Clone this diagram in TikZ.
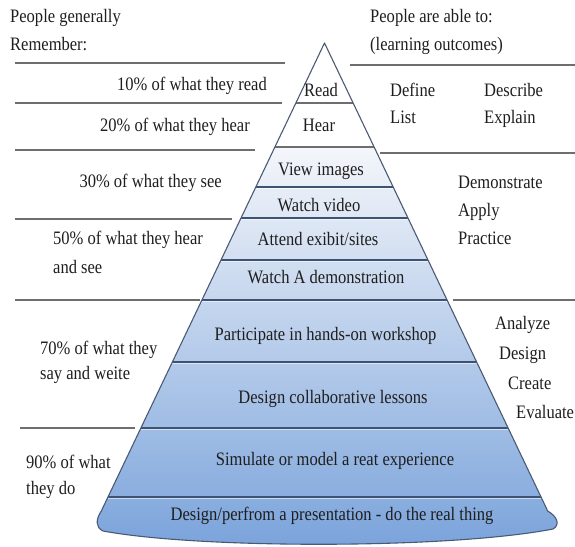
\documentclass[tikz,border=0pt]{standalone}
\usepackage{fontspec}
\setmainfont{Liberation Serif}[FakeStretch=0.87]
\usetikzlibrary{calc}
\definecolor{txt}{HTML}{1E1E1E}
\definecolor{sideline}{HTML}{6E6E6E}
\definecolor{fillTop}{HTML}{F4F6FA}
\definecolor{fillMid}{HTML}{C3D3EA}
\definecolor{fillBot}{HTML}{7AA3DB}
\definecolor{divBlue}{HTML}{3E5273}
\definecolor{outlineC}{HTML}{4A5A74}
\tikzset{
  lbl/.style={font=\fontsize{19}{22}\selectfont, text=txt, inner sep=0pt},
  sidel/.style={draw=sideline, line width=1.4pt},
  topdiv/.style={draw=sideline, line width=1.1pt},
  bluediv/.style={draw=divBlue, line width=1.2pt},
  hilite/.style={draw=white, opacity=0.55, line width=0.9pt},
  outl/.style={draw=outlineC, line width=1.1pt, line join=round},
}
\begin{document}
\begin{tikzpicture}[x=1pt,y=-1pt]
\useasboundingbox (0,0) rectangle (575,546);
\coordinate (A) at (324.5,43);
\coordinate (BL) at (101.3,511);
\coordinate (BR) at (547.7,511);
% shaded lower part
\shade[top color=fillTop, middle color=fillMid, bottom color=fillBot]
  ($(A)!{104/468}!(BL)$) -- (BL) .. controls (96,519) and (95,527) .. (103,531)
  .. controls (200,549) and (450,549) .. (553,529)
  .. controls (560,525) and (558,517) .. (BR) -- ($(A)!{104/468}!(BR)$) -- cycle;
% dividers
\foreach \yy/\sty in {103/topdiv,147/topdiv} {
  \pgfmathsetmacro\pf{(\yy-43)/468}
  \draw[\sty] ($(A)!\pf!(BL)$) -- ($(A)!\pf!(BR)$);
}
\foreach \yy in {187,218,260,300,362,428,497} {
  \pgfmathsetmacro\pf{(\yy-43)/468}
  \pgfmathsetmacro\pg{(\yy-41.4)/468}
  \draw[hilite] ($(A)!\pg!(BL)$) -- ($(A)!\pg!(BR)$);
  \draw[bluediv] ($(A)!\pf!(BL)$) -- ($(A)!\pf!(BR)$);
}
% outline
\draw[outl] (A) -- (BL) .. controls (96,519) and (95,527) .. (103,531)
  .. controls (200,549) and (450,549) .. (553,529)
  .. controls (560,525) and (558,517) .. (BR) -- cycle;
% side lines
\coordinate (l1a) at (15,63);  \coordinate (l1b) at (285,63);
\coordinate (l2a) at (15,103); \coordinate (l2b) at (282,103);
\coordinate (l3a) at (15,150); \coordinate (l3b) at (255,150);
\coordinate (l4a) at (15,219); \coordinate (l4b) at (232,219);
\coordinate (l5a) at (15,300); \coordinate (l5b) at (200,300);
\coordinate (l6a) at (20,428); \coordinate (l6b) at (135,428);
\coordinate (r1a) at (350,65); \coordinate (r1b) at (575,65);
\coordinate (r2a) at (380,153); \coordinate (r2b) at (575,153);
\coordinate (r3a) at (453,300); \coordinate (r3b) at (575,300);
\draw[sidel] (l1a) -- (l1b);
\draw[sidel] (l2a) -- (l2b);
\draw[sidel] (l3a) -- (l3b);
\draw[sidel] (l4a) -- (l4b);
\draw[sidel] (l5a) -- (l5b);
\draw[sidel] (l6a) -- (l6b);
\draw[sidel] (r1a) -- (r1b);
\draw[sidel] (r2a) -- (r2b);
\draw[sidel] (r3a) -- (r3b);
% left texts
\node[lbl, anchor=base west] (t1) at (10,22) {People generally};
\node[lbl, anchor=base west] (t2) at (10,50) {Remember:};
\node[lbl, anchor=base east] (t3) at (267,90) {10\% of what they read};
\node[lbl, anchor=base east] (t4) at (250,131) {20\% of what they hear};
\node[lbl, anchor=base east] (t5) at (222,187) {30\% of what they see};
\node[lbl, anchor=base west] (t6) at (53,244) {50\% of what they hear};
\node[lbl, anchor=base west] (t7) at (53,273) {and see};
\node[lbl, anchor=base west] (t8) at (40,354) {70\% of what they};
\node[lbl, anchor=base west] (t9) at (40,379) {say and weite};
\node[lbl, anchor=base west] (t10) at (26,468) {90\% of what};
\node[lbl, anchor=base west] (t11) at (26,494) {they do};
% pyramid texts
\node[lbl, anchor=base] (p1) at (321,96) {Read};
\node[lbl, anchor=base] (p2) at (319,131) {Hear};
\node[lbl, anchor=base] (p3) at (321,175) {View images};
\node[lbl, anchor=base] (p4) at (319,211) {Watch video};
\node[lbl, anchor=base] (p5) at (318,245) {Attend exibit/sites};
\node[lbl, anchor=base] (p6) at (326,283) {Watch A demonstration};
\node[lbl, anchor=base] (p7) at (325.5,340) {Participate in hands-on workshop};
\node[lbl, anchor=base] (p8) at (333,403) {Design collaborative lessons};
\node[lbl, anchor=base] (p9) at (335,465) {Simulate or model a reat experience};
\node[lbl, anchor=base] (p10) at (332,520) {Design/perfrom a presentation - do the real thing};
% right texts
\node[lbl, anchor=base west] (r1) at (370,23) {People are able to:};
\node[lbl, anchor=base west] (r2) at (370,50) {(learning outcomes)};
\node[lbl, anchor=base west] (r3) at (390,96) {Define};
\node[lbl, anchor=base west] (r4) at (390,123) {List};
\node[lbl, anchor=base west] (r5) at (484,96) {Describe};
\node[lbl, anchor=base west] (r6) at (484,123) {Explain};
\node[lbl, anchor=base west] (r7) at (458,188) {Demonstrate};
\node[lbl, anchor=base west] (r8) at (458,216) {Apply};
\node[lbl, anchor=base west] (r9) at (458,244) {Practice};
\node[lbl, anchor=base west] (r10) at (495,329) {Analyze};
\node[lbl, anchor=base west] (r11) at (499,359) {Design};
\node[lbl, anchor=base west] (r12) at (508,389) {Create};
\node[lbl, anchor=base west] (r13) at (516,418) {Evaluate};
\end{tikzpicture}
\end{document}
